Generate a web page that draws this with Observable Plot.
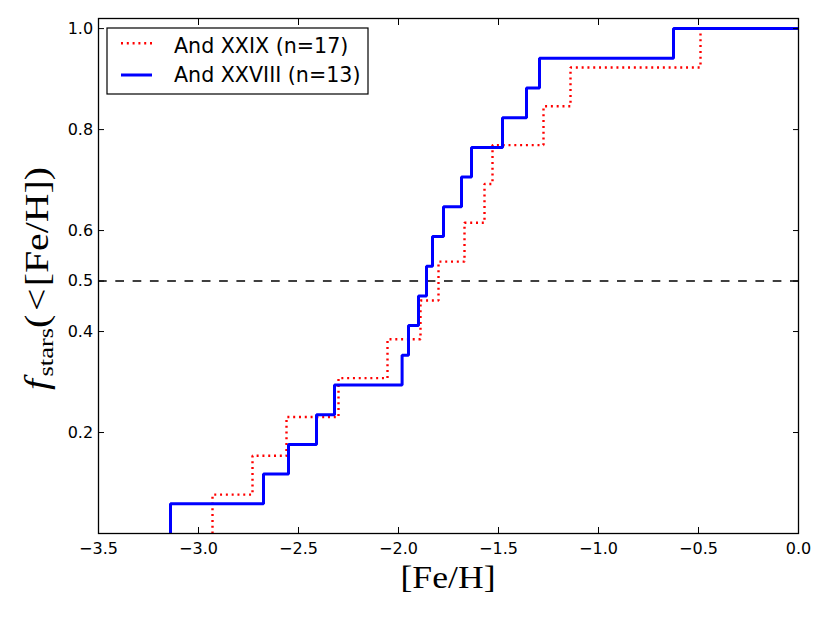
<!DOCTYPE html>
<html>
<head>
<meta charset="utf-8">
<script src="https://cdn.jsdelivr.net/npm/d3@7"></script>
<script src="https://cdn.jsdelivr.net/npm/@observablehq/plot@0.6"></script>
<style>
html, body { margin: 0; padding: 0; background: #fff; }
#chart { position: relative; width: 830px; height: 623px; }
svg { overflow: visible; }
</style>
</head>
<body>
<div id="chart"></div>
<script>
// ---- data ----
const xTicks = [-3.5, -3.0, -2.5, -2.0, -1.5, -1.0, -0.5, 0.0];
const yTicks = [0.2, 0.4, 0.5, 0.6, 0.8, 1.0];
const xDomain = [-3.5, 0.0];
const yDomain = [0, 1.02];
const seriesNames = ["And XXIX (n=17)", "And XXVIII (n=13)"];
// sorted [Fe/H] of the stars (step positions of each cumulative curve)
const fehXXIX = [-2.93, -2.73, -2.56, -2.30, -2.055, -1.89, -1.80, -1.67, -1.57, -1.53, -1.275, -1.14, -0.49];
const fehXXVIII = [-3.14, -2.675, -2.55, -2.41, -2.32, -1.982, -1.95, -1.90, -1.86, -1.83, -1.775, -1.685, -1.635, -1.48, -1.36, -1.295, -0.625];
const medianLevel = [0.5];
const xEnd = 0.0;

// empirical cumulative fraction of stars below each [Fe/H]
function ecdf(vals, name) {
  const n = vals.length;
  const pts = [{x: vals[0], y: 0, s: name}];
  vals.forEach((v, i) => pts.push({x: v, y: (i + 1) / n, s: name}));
  pts.push({x: xEnd, y: 1, s: name});
  return pts;
}
const cdfXXIX = ecdf(fehXXIX, seriesNames[0]);
const cdfXXVIII = ecdf(fehXXVIII, seriesNames[1]);

const fmt = d3.format(".1f");
const redStyle = {stroke: "#ff0000", strokeWidth: 2.4, strokeDasharray: "2,3.8", strokeLinecap: "butt", strokeLinejoin: "miter"};
const blueStyle = {stroke: "#0000ff", strokeWidth: 3, strokeLinecap: "butt", strokeLinejoin: "miter"};

const mL = 98, mR = 32, mT = 18, mB = 90, W = 830, H = 623;

const plot = Plot.plot({
  width: W, height: H,
  marginLeft: mL, marginRight: mR, marginTop: mT, marginBottom: mB,
  style: {fontFamily: "'DejaVu Sans', sans-serif", fontSize: "16px", color: "black", background: "white"},
  x: {domain: xDomain},
  y: {domain: yDomain},
  marks: [
    Plot.ruleY(medianLevel, {stroke: "black", strokeWidth: 1.4, strokeDasharray: "8.7,8.6"}),
    Plot.line(cdfXXIX, {x: "x", y: "y", curve: "step-after", ...redStyle}),
    Plot.line(cdfXXVIII, {x: "x", y: "y", curve: "step-after", ...blueStyle}),
    Plot.frame({stroke: "black", strokeWidth: 1.3}),
    Plot.axisX({anchor: "bottom", ticks: xTicks, tickSize: -6, tickPadding: 15, tickFormat: fmt, label: null, fontSize: 16}),
    Plot.axisX({anchor: "top", ticks: xTicks, tickSize: -6, tickFormat: () => "", label: null}),
    Plot.axisY({anchor: "left", ticks: yTicks, tickSize: -6, tickPadding: 11.4, tickFormat: fmt, label: null, fontSize: 16}),
    Plot.axisY({anchor: "right", ticks: yTicks, tickSize: -6, tickFormat: () => "", label: null})
  ]
});
document.getElementById("chart").appendChild(plot);

const svg = d3.select(plot);
const serif = "'Liberation Serif', 'Times New Roman', serif";

// x label
svg.append("text")
  .attr("x", (mL + (W - mR)) / 2).attr("y", 588)
  .attr("text-anchor", "middle")
  .attr("font-family", serif).attr("font-size", 32)
  .attr("textLength", 95).attr("lengthAdjust", "spacingAndGlyphs")
  .attr("fill", "black")
  .text("[Fe/H]");

// y label
const yl = svg.append("text")
  .attr("transform", `translate(48,${(mT + (H - mB)) / 2 + 3}) rotate(-90)`)
  .attr("text-anchor", "middle")
  .attr("font-family", serif).attr("font-size", 33)
  .attr("textLength", 223).attr("lengthAdjust", "spacingAndGlyphs")
  .attr("fill", "black");
yl.append("tspan").attr("font-style", "italic").text("f");
yl.append("tspan").attr("font-size", 22).attr("dy", 5).attr("dx", 2).text("stars");
yl.append("tspan").attr("dy", -5).text("(");
yl.append("tspan").attr("dx", 3).text("<");
yl.append("tspan").attr("dx", 2).text("[Fe/H]");
yl.append("tspan").text(")");

// legend
const lx = mL + 9, ly = mT + 10;
const lg = svg.append("g").attr("text-anchor", "start");
lg.append("rect").attr("x", lx).attr("y", ly).attr("width", 261).attr("height", 66)
  .attr("fill", "white").attr("stroke", "black").attr("stroke-width", 1.2);
const rows = [
  {name: seriesNames[0], style: redStyle, y: ly + 15.3, base: ly + 24.7},
  {name: seriesNames[1], style: blueStyle, y: ly + 47, base: ly + 54}
];
rows.forEach(r => {
  const l = lg.append("line").attr("x1", lx + 14).attr("x2", lx + 45)
    .attr("y1", r.y).attr("y2", r.y)
    .attr("stroke", r.style.stroke).attr("stroke-width", r.style.strokeWidth)
    .attr("stroke-linecap", "butt");
  if (r.style.strokeDasharray) l.attr("stroke-dasharray", r.style.strokeDasharray);
  lg.append("text").attr("x", lx + 67).attr("y", r.base)
    .attr("text-anchor", "start")
    .attr("font-family", "'DejaVu Sans', sans-serif").attr("font-size", 20.6)
    .attr("fill", "black").text(r.name);
});
</script>
</body>
</html>
